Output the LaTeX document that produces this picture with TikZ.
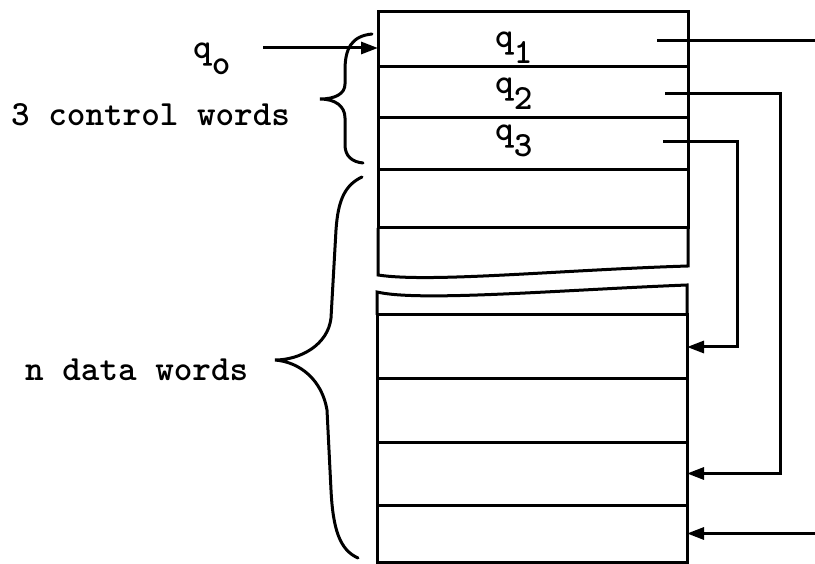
\documentclass[tikz,border=0pt]{standalone}
\usepackage{fontspec}
\usetikzlibrary{arrows.meta}
\newcommand{\lowch}[1]{\raisebox{-0.45em}{#1}}
\tikzset{
	word/.style={draw, line width=3pt, minimum width=310pt, inner sep=0pt, outer sep=0pt},
	lbl/.style={font=\ttfamily\bfseries\fontsize{35.4}{40}\selectfont, anchor=base west, inner sep=0pt},
	ptr/.style={-{Triangle[length=17pt,width=12pt]}, line width=3pt},
	brace/.style={line width=3pt, line cap=round}
}
\begin{document}
\begin{tikzpicture}[x=1pt,y=-1pt]
		\useasboundingbox (0,0) rectangle (815,564);
		
		% control words and the first data words
		\node[word, minimum height=55pt] (w1) at (533,39.5) {};
		\node[word, minimum height=51pt] (w2) at (533,92.5) {};
		\node[word, minimum height=52pt] (w3) at (533,144) {};
		\node[word, minimum height=58pt] (w4) at (533,199) {};
		\draw[line width=3pt] (378,228) -- (378,275) .. controls (430,283) and (560,270) .. (688,266) -- (688,228);
		
		% last data words
		\node[word, minimum height=64pt] (d2) at (532,347) {};
		\node[word, minimum height=63pt] (d3) at (532,410.5) {};
		\node[word, minimum height=63pt] (d4) at (532,473.5) {};
		\node[word, minimum height=57pt] (d5) at (532,533.5) {};
		\draw[line width=3pt] (377,315) -- (377,292) .. controls (420,302) and (560,290) .. (687,285) -- (687,315);
		
		\node[lbl] (lq1) at (495,48) {q\lowch{1}};
		\node[lbl] (lq2) at (495,94) {q\lowch{2}};
		\node[lbl] (lq3) at (495,141) {q\lowch{3}};
		\node[lbl] (lq0) at (193,59) {q\lowch{o}};
		\node[lbl] (lctl) at (11,126) {3 control words};
		\node[lbl] (ldat) at (25,381) {n data words};
		
		% pointers
		\coordinate (a0) at (263,48);
		\draw[ptr] (a0) -- (a0 -| w1.west);
		
		\coordinate (s1) at (657,41);
		\coordinate (s2) at (665,94);
		\coordinate (s3) at (663,142);
		\coordinate (e1) at (815,41);
		\coordinate (e2) at (815,533.5);
		\draw[line width=3pt] (s1) -- (e1);
		\draw[ptr] (e2) -- (d5.east);
		\draw[ptr] (s2) -- ++(115,0) |- (d4.east);
		\draw[ptr] (s3) -- ++(74,0) |- (d2.east);
		
		% braces
		\draw[brace] (372,34) .. controls (352,36) and (345,48) .. (345,70) -- (345,84) .. controls (345,94) and (335,99) .. (320,99)
			.. controls (335,99) and (345,106) .. (345,118) -- (345,145) .. controls (345,156) and (352,162) .. (363,163);
		\draw[brace] (362,177) .. controls (345,185) and (338,200) .. (336,230) -- (331,318) .. controls (328,345) and (300,360) .. (275,360)
			.. controls (300,362) and (322,380) .. (327,410) -- (331,490) .. controls (333,530) and (340,550) .. (358,558);
	\end{tikzpicture}
\end{document}
